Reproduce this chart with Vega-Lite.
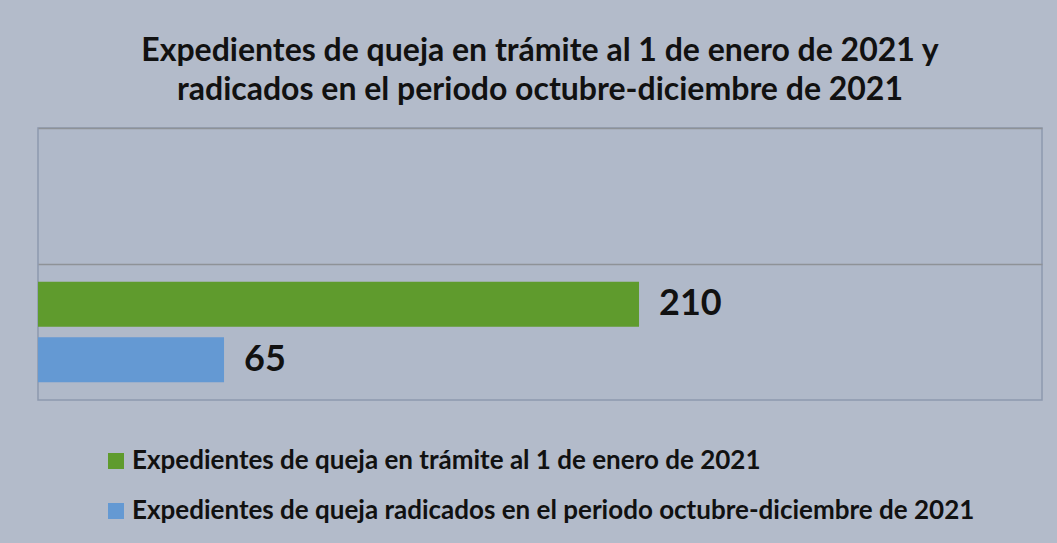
{
  "$schema": "https://vega.github.io/schema/vega-lite/v6.json",
  "width": 1004,
  "height": 272,
  "autosize": {"type": "none"},
  "padding": {"left": 38, "top": 128, "right": 15, "bottom": 143},
  "background": "#B3BBCA",
  "config": {
    "view": {"stroke": "#8D99AE", "strokeWidth": 1.5, "fill": "#B0B9C9"},
    "font": "Lato"
  },
  "title": {
    "text": ["Expedientes de queja en trámite al 1 de enero de 2021 y", "radicados en el periodo octubre-diciembre de 2021"],
    "font": "Lato",
    "fontSize": 32,
    "fontWeight": "bold",
    "color": "#111111",
    "lineHeight": 39,
    "anchor": "middle",
    "offset": 21
  },
  "data": {
    "values": [
      {"categoria": "2021", "serie": "Expedientes de queja en trámite al 1 de enero de 2021", "valor": 210},
      {"categoria": "2021", "serie": "Expedientes de queja radicados en el periodo octubre-diciembre de 2021", "valor": 65}
    ]
  },
  "encoding": {
    "y": {
      "field": "categoria",
      "type": "nominal",
      "scale": {"domain": ["vacío", "2021"], "paddingInner": 0, "paddingOuter": 0},
      "axis": {
        "title": null,
        "labels": false,
        "ticks": false,
        "domain": false,
        "grid": true,
        "bandPosition": 0,
        "gridColor": "#8E9297",
        "gridWidth": 1.5,
        "gridOpacity": 1
      }
    },
    "yOffset": {
      "field": "serie",
      "type": "nominal",
      "sort": null,
      "scale": {"paddingInner": 0.19, "paddingOuter": 0.32}
    },
    "x": {
      "field": "valor",
      "type": "quantitative",
      "scale": {"domain": [0, 350.8], "nice": false, "zero": true},
      "axis": null
    }
  },
  "layer": [
    {
      "mark": {"type": "bar"},
      "encoding": {
        "color": {
          "field": "serie",
          "type": "nominal",
          "sort": null,
          "scale": {
            "domain": ["Expedientes de queja en trámite al 1 de enero de 2021", "Expedientes de queja radicados en el periodo octubre-diciembre de 2021"],
            "range": ["#5F9B2D", "#6499D3"]
          },
          "legend": {
            "title": null,
            "orient": "none",
            "legendX": 65,
            "legendY": 320,
            "padding": 0,
            "symbolType": "square",
            "symbolSize": 256,
            "symbolStrokeWidth": 0,
            "symbolOpacity": 1,
            "labelFont": "Lato",
            "labelFontSize": 26,
            "labelFontWeight": "bold",
            "labelColor": "#111111",
            "labelLimit": 1000,
            "labelOffset": 3,
            "rowPadding": 24
          }
        }
      }
    },
    {
      "mark": {"type": "text", "align": "left", "baseline": "middle", "dx": 20, "fontSize": 36, "fontWeight": "bold", "color": "#111111", "font": "Lato"},
      "encoding": {"text": {"field": "valor", "type": "quantitative"}}
    }
  ]
}
